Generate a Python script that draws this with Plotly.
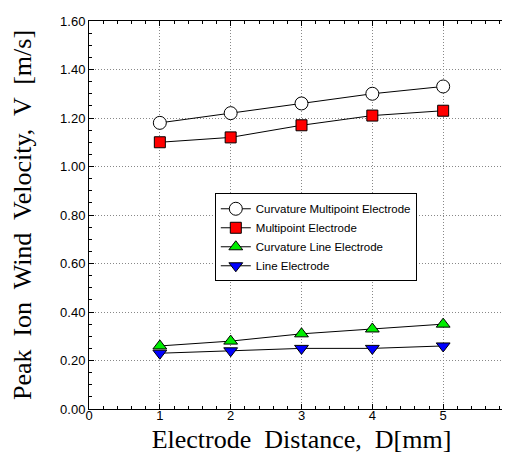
import plotly.graph_objects as go

distance = [1, 2, 3, 4, 5]
curv_multi = [1.18, 1.22, 1.26, 1.30, 1.33]
multi = [1.10, 1.12, 1.17, 1.21, 1.23]
curv_line = [0.26, 0.28, 0.31, 0.33, 0.35]
line = [0.23, 0.24, 0.25, 0.25, 0.26]
names = ["Curvature Multipoint Electrode", "Multipoint Electrode",
         "Curvature Line Electrode", "Line Electrode"]
y_ticks = [0.0, 0.2, 0.4, 0.6, 0.8, 1.0, 1.2, 1.4, 1.6]
y_tick_text = ["0.00", "0.20", "0.40", "0.60", "0.80", "1.00", "1.20", "1.40", "1.60"]

series = [
    (curv_multi, "circle", "white", 13),
    (multi, "square", "red", 11),
    (curv_line, "triangle-up", "#00ee00", 12),
    (line, "triangle-down", "#0000ff", 12),
]

fig = go.Figure()
for (vals, sym, col, sz), nm in zip(series, names):
    fig.add_trace(go.Scatter(
        x=distance, y=vals, name=nm, mode="lines+markers",
        line=dict(color="black", width=1),
        marker=dict(symbol=sym, color=col, size=sz, line=dict(color="black", width=1)),
    ))

axis_common = dict(
    showline=True, linecolor="black", linewidth=1, mirror="allticks",
    ticks="inside", ticklen=5, tickcolor="black",
    showgrid=True, gridcolor="#888888", griddash="1px,2px", gridwidth=1,
    zeroline=False, ticklabeloverflow="allow",
    tickfont=dict(family="Arial, Liberation Sans", size=13, color="black"),
)

fig.update_xaxes(
    range=[0, 6], tickvals=[0, 1, 2, 3, 4, 5, 6],
    minor=dict(ticks="inside", ticklen=3, dtick=0.2, tickcolor="black", showgrid=False),
    ticklabelstandoff=-6,
    title=dict(text="Electrode  Distance,  D[mm]",
               font=dict(family="Liberation Serif, Times New Roman", size=26, color="black"),
               standoff=8),
    **axis_common,
)
fig.update_yaxes(
    range=[0, 1.6], tickvals=y_ticks, ticktext=y_tick_text,
    minor=dict(ticks="inside", ticklen=3, dtick=0.05, tickcolor="black", showgrid=False),
    title=dict(text="Peak  Ion  Wind  Velocity,  V  [m/s]",
               font=dict(family="Liberation Serif, Times New Roman", size=26, color="black"),
               standoff=20),
    **axis_common,
)

fig.update_layout(
    width=510, height=461,
    margin=dict(l=81, r=4, t=13, b=60, autoexpand=False),
    plot_bgcolor="white", paper_bgcolor="white",
    legend=dict(
        x=0.296, y=0.556, xanchor="left", yanchor="top",
        bgcolor="white", bordercolor="black", borderwidth=1,
        font=dict(family="Arial, Liberation Sans", size=11.5, color="black"),
        tracegroupgap=0, itemwidth=30,
    ),
)

fig.write_html("out.html")
